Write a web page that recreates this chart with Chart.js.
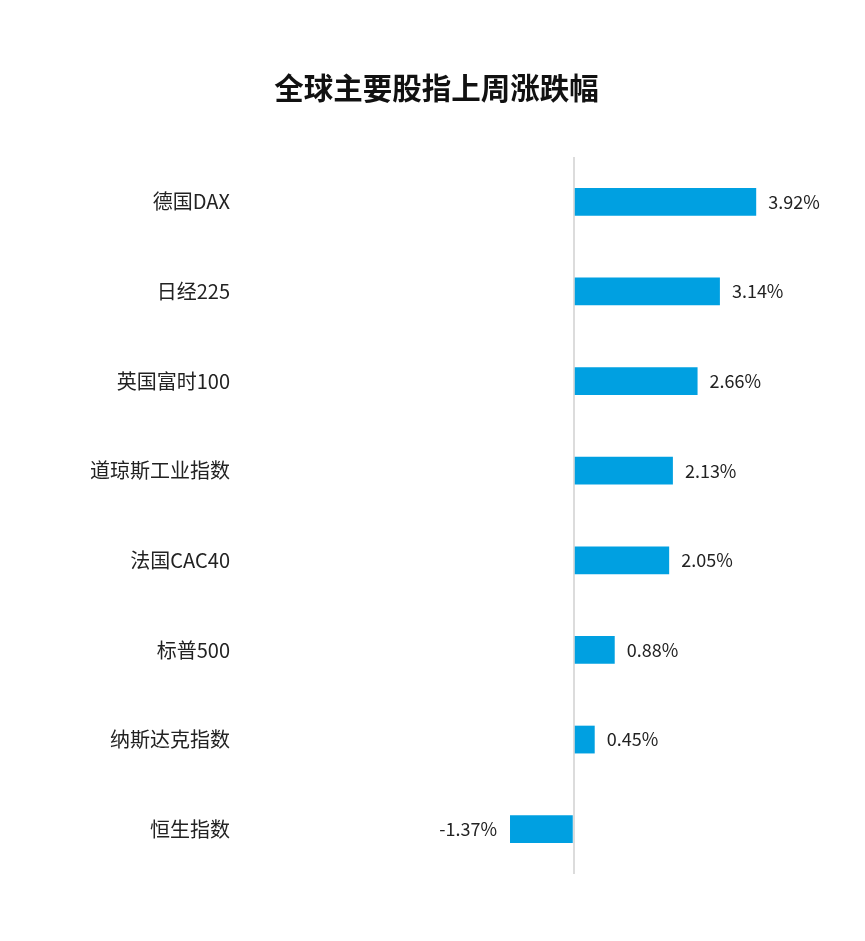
<!DOCTYPE html>
<html>
<head>
<meta charset="utf-8">
<script src="https://cdn.jsdelivr.net/npm/chart.js@4/dist/chart.umd.min.js"></script>
<style>
  html, body { margin: 0; padding: 0; background: #fff; }
  canvas { display: block; }
</style>
</head>
<body>
<canvas id="chart" width="865" height="941"></canvas>
<script>
// -------------------------
// Datos
// -------------------------
const titulo = "全球主要股指上周涨跌幅";
const indices = ["德国DAX", "日经225", "英国富时100", "道琼斯工业指数", "法国CAC40", "标普500", "纳斯达克指数", "恒生指数"];
const cambios = [3.92, 3.14, 2.66, 2.13, 2.05, 0.88, 0.45, -1.37];

const FONT = "'Noto Sans CJK SC', 'Noto Sans', sans-serif";
const AZUL = "#00a0e1";

// etiquetas de valor al final de cada barra
const etiquetasValor = {
  id: "etiquetasValor",
  afterDatasetsDraw(chart){
    const ctx = chart.ctx;
    const meta = chart.getDatasetMeta(0);
    ctx.save();
    ctx.font = "18px " + FONT;
    ctx.fillStyle = "#222";
    ctx.textBaseline = "middle";
    meta.data.forEach((bar, i) => {
      const v = cambios[i];
      const txt = v.toFixed(2) + "%";
      if (v >= 0){
        ctx.textAlign = "left";
        ctx.fillText(txt, bar.x + 12, bar.y);
      } else {
        ctx.textAlign = "right";
        ctx.fillText(txt, bar.x - 13, bar.y);
      }
    });
    ctx.restore();
  }
};

new Chart(document.getElementById("chart").getContext("2d"), {
  type: "bar",
  data: {
    labels: indices,
    datasets: [{
      data: cambios,
      backgroundColor: AZUL,
      borderWidth: 0,
      categoryPercentage: 1,
      barPercentage: 0.31
    }]
  },
  options: {
    indexAxis: "y",
    responsive: false,
    animation: false,
    layout: { padding: { top: 0, right: 12, bottom: 67, left: 20 } },
    plugins: {
      legend: { display: false },
      tooltip: { enabled: false },
      title: {
        display: true,
        text: titulo,
        color: "#111",
        font: { family: FONT, size: 29.5, weight: "bold", lineHeight: 1.2 },
        padding: { top: 70, bottom: 51.6 }
      }
    },
    scales: {
      x: {
        min: -7,
        max: 6,
        ticks: { display: false, stepSize: 1 },
        border: { display: false },
        grid: {
          drawTicks: false,
          lineWidth: 2,
          color: c => (c.tick && c.tick.value === 0) ? "#dcdcdc" : "rgba(0,0,0,0)"
        }
      },
      y: {
        afterFit(scale){ scale.width = 228; },
        border: { display: false },
        grid: { display: false, drawTicks: false },
        ticks: {
          padding: 18,
          color: "#222",
          font: { family: FONT, size: 20 }
        }
      }
    }
  },
  plugins: [etiquetasValor]
});
</script>
</body>
</html>
